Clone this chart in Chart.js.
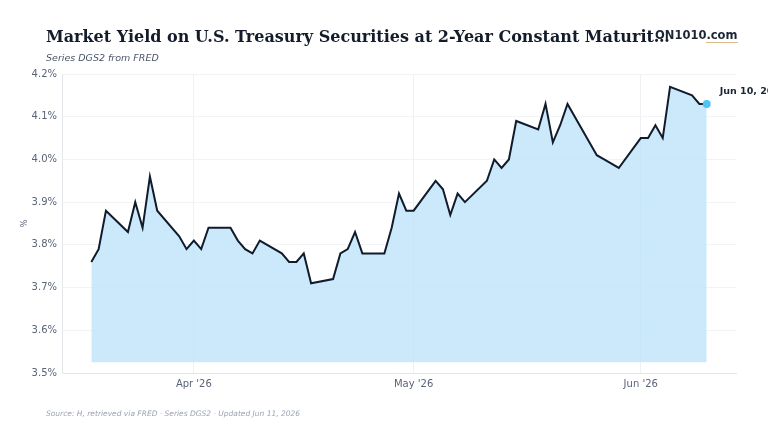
<!DOCTYPE html>
<html>
<head>
<meta charset="utf-8">
<script src="https://cdn.jsdelivr.net/npm/chart.js@4/dist/chart.umd.min.js"></script>
<style>
  html, body { margin: 0; padding: 0; background: #ffffff; }
  #wrap { position: relative; width: 768px; height: 432px; overflow: hidden; background: #fff; }
  #c { position: absolute; left: 0; top: 0; }
  .title { position: absolute; left: 46px; top: 27px; white-space: nowrap;
           font-family: "DejaVu Serif", serif; font-weight: bold; font-size: 16px; line-height: 20px; color: #141c2b; }
  .logo { position: absolute; left: 655px; top: 27px; font-family: "DejaVu Sans", sans-serif; font-weight: bold; font-size: 11.5px; line-height: 16px; color: #1b2535; }
  .logo span { border-bottom: 1px solid #d9b98a; }
  .sub { position: absolute; left: 46px; top: 51px; font-family: "DejaVu Sans", sans-serif; font-style: italic; font-size: 9.5px; line-height: 14px; color: #4a5568; }
  .foot { position: absolute; left: 46px; top: 409px; font-family: "DejaVu Sans", sans-serif; font-style: italic; font-size: 7.5px; line-height: 10px; color: #9aa3b2; }
</style>
</head>
<body>
<div id="wrap">
  <canvas id="c" width="768" height="432"></canvas>
  <div class="title">Market Yield on U.S. Treasury Securities at 2-Year Constant Maturit…</div>
  <div class="logo">ON1010<span>.com</span></div>
  <div class="sub">Series DGS2 from FRED</div>
  <div class="foot">Source: H, retrieved via FRED · Series DGS2 · Updated Jun 11, 2026</div>
</div>
<script>
const dates = [
  '2026-03-18','2026-03-19','2026-03-20','2026-03-23','2026-03-24','2026-03-25','2026-03-26','2026-03-27',
  '2026-03-30','2026-03-31','2026-04-01','2026-04-02','2026-04-03','2026-04-06','2026-04-07','2026-04-08',
  '2026-04-09','2026-04-10','2026-04-13','2026-04-14','2026-04-15','2026-04-16','2026-04-17','2026-04-20',
  '2026-04-21','2026-04-22','2026-04-23','2026-04-24','2026-04-27','2026-04-28','2026-04-29','2026-04-30',
  '2026-05-01','2026-05-04','2026-05-05','2026-05-06','2026-05-07','2026-05-08','2026-05-11','2026-05-12',
  '2026-05-13','2026-05-14','2026-05-15','2026-05-18','2026-05-19','2026-05-20','2026-05-21','2026-05-22',
  '2026-05-26','2026-05-27','2026-05-28','2026-05-29','2026-06-01','2026-06-02','2026-06-03','2026-06-04',
  '2026-06-05','2026-06-08','2026-06-09','2026-06-10'
];
const yields = [
  3.76, 3.79, 3.88, 3.83, 3.90, 3.84, 3.96, 3.88,
  3.82, 3.79, 3.81, 3.79, 3.84, 3.84, 3.81, 3.79,
  3.78, 3.81, 3.78, 3.76, 3.76, 3.78, 3.71, 3.72,
  3.78, 3.79, 3.83, 3.78, 3.78, 3.84, 3.92, 3.88,
  3.88, 3.95, 3.93, 3.87, 3.92, 3.90, 3.95, 4.00,
  3.98, 4.00, 4.09, 4.07, 4.13, 4.04, 4.08, 4.13,
  4.01, 4.00, 3.99, 3.98, 4.05, 4.05, 4.08, 4.05,
  4.17, 4.15, 4.13, 4.13
];
const tickDates = ['2026-04-01', '2026-05-01', '2026-06-01'];
const tickLabels = ["Apr '26", "May '26", "Jun '26"];
const axisStart = '2026-03-14';
const axisEnd = '2026-06-14';
const yMin = 3.5, yMax = 4.2, yStep = 0.1;
const fillBase = 3.525;
const endLabel = 'Jun 10, 2026';

const dayNum = s => {
  const [y, m, d] = s.split('-').map(Number);
  return Date.UTC(y, m - 1, d) / 86400000;
};
const points = dates.map((d, i) => ({ x: dayNum(d), y: yields[i] }));
const tickVals = tickDates.map(dayNum);
const lastIdx = points.length - 1;

const endLabelPlugin = {
  id: 'endLabel',
  afterDatasetsDraw(chart) {
    const meta = chart.getDatasetMeta(0);
    const p = meta.data[lastIdx];
    const ctx = chart.ctx;
    ctx.save();
    ctx.fillStyle = '#1b2535';
    ctx.font = 'bold 9.5px "DejaVu Sans", sans-serif';
    ctx.textAlign = 'left';
    ctx.textBaseline = 'middle';
    ctx.fillText(endLabel, p.x + 13, p.y - 12);
    ctx.restore();
  }
};

new Chart(document.getElementById('c'), {
  type: 'line',
  data: {
    datasets: [{
      data: points,
      borderColor: '#101b2c',
      borderWidth: 2,
      backgroundColor: 'rgba(190, 228, 250, 0.8)',
      fill: { value: fillBase },
      tension: 0,
      pointRadius: points.map((p, i) => i === lastIdx ? 4 : 0),
      pointBackgroundColor: '#4fc3f7',
      pointBorderColor: '#4fc3f7',
      pointBorderWidth: 0
    }]
  },
  options: {
    responsive: false,
    animation: false,
    layout: { padding: { top: 74, right: 32, left: 0, bottom: 0 } },
    plugins: { legend: { display: false }, tooltip: { enabled: false } },
    scales: {
      x: {
        type: 'linear',
        min: dayNum(axisStart),
        max: dayNum(axisEnd),
        afterBuildTicks: s => { s.ticks = tickVals.map(v => ({ value: v })); },
        afterFit: s => { s.height = 59; },
        ticks: {
          autoSkip: false,
          maxRotation: 0,
          padding: 5,
          color: '#5a6478',
          font: { family: 'DejaVu Sans', size: 10 },
          callback: v => tickLabels[tickVals.indexOf(v)]
        },
        grid: { color: '#eef0f3', drawTicks: false },
        border: { color: '#e3e6eb' }
      },
      y: {
        min: yMin,
        max: yMax,
        afterFit: s => { s.width = 62; },
        ticks: {
          stepSize: yStep,
          padding: 5,
          color: '#5a6478',
          font: { family: 'DejaVu Sans', size: 10 },
          callback: v => v.toFixed(1) + '%'
        },
        title: { display: true, text: '%', color: '#5a6478', font: { family: 'DejaVu Sans', size: 8 }, padding: { top: 20, bottom: 0 } },
        grid: { color: '#f1f3f6', drawTicks: false },
        border: { color: '#e3e6eb' }
      }
    }
  },
  plugins: [endLabelPlugin]
});
</script>
</body>
</html>
